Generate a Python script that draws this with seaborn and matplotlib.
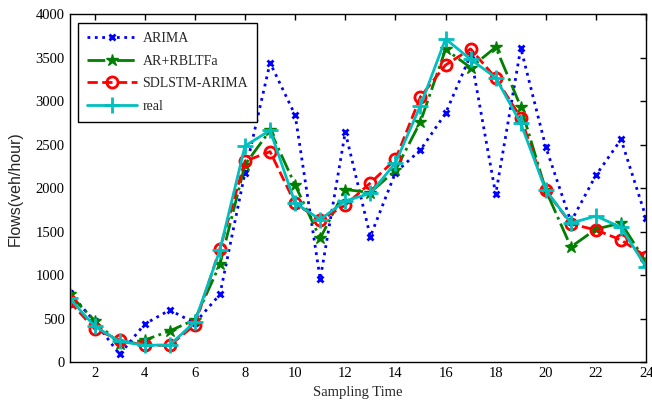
import numpy as np
import pandas as pd
import matplotlib
matplotlib.use("Agg")
import matplotlib.pyplot as plt
import seaborn as sns

# sampling points
t = list(range(1, 25))

arima = [800, 470, 90, 440, 600, 450, 780, 2180, 3440, 2840, 955, 2645,
         1445, 2180, 2440, 2860, 3530, 1930, 3610, 2470, 1615, 2150, 2560, 1660]
ar_rbltfa = [780, 480, 210, 255, 360, 490, 1125, 2270, 2665, 2035, 1425, 1985,
             1950, 2205, 2765, 3595, 3385, 3620, 2935, 1975, 1325, 1530, 1600, 1150]
sdlstm_arima = [700, 385, 255, 195, 195, 430, 1305, 2310, 2420, 1825, 1635, 1805,
                2060, 2330, 3050, 3415, 3600, 3265, 2810, 1975, 1590, 1520, 1405, 1215]
real = [735, 415, 240, 195, 200, 465, 1290, 2485, 2665, 1830, 1640, 1855,
        1940, 2290, 2950, 3715, 3480, 3270, 2745, 1975, 1600, 1680, 1550, 1095]

names = ['ARIMA', 'AR+RBLTFa', 'SDLSTM-ARIMA', 'real']
colors = ['#0000ff', '#007f00', '#ff0000', '#00bfbf']

sns.set_style('white')
plt.rcParams['font.family'] = ['Liberation Serif', 'DejaVu Serif']

fig = plt.figure(figsize=(6.52, 4.03), dpi=100)
ax = fig.add_axes([0.1066, 0.101, 0.8844, 0.864])

df = pd.DataFrame({'t': t * 4,
                   'flow': arima + ar_rbltfa + sdlstm_arima + real,
                   'model': sum([[n] * len(t) for n in names], [])})

styles = {
    'ARIMA': dict(ls=':', marker='x', ms=5, mew=2, lw=2),
    'AR+RBLTFa': dict(ls='-.', marker='*', ms=9, mew=1, lw=2),
    'SDLSTM-ARIMA': dict(ls='--', marker='o', ms=8, mew=2, lw=2, mfc='none'),
    'real': dict(ls='-', marker='+', ms=11, mew=2, lw=2),
}
for name, col in zip(names, colors):
    sub = df[df['model'] == name]
    st = styles[name]
    sns.lineplot(data=sub, x='t', y='flow', ax=ax, color=col, label=name,
                 linestyle=st['ls'], linewidth=st['lw'], marker=st['marker'],
                 markersize=st['ms'], markeredgewidth=st['mew'],
                 markeredgecolor=col,
                 markerfacecolor=st.get('mfc', col))

ax.set_xlim(1, 24)
ax.set_ylim(0, 4000)
ax.set_xticks(range(2, 25, 2))
ax.set_yticks(range(0, 4001, 500))
ax.tick_params(direction='in', top=True, right=True, length=4, width=1,
               labelsize=10.5, colors='black')
for s in ax.spines.values():
    s.set_color('black')
    s.set_linewidth(1)

ax.set_xlabel('Sampling Time', fontsize=10.5)
ax.set_ylabel('Flows(veh/hour)', fontsize=11.5, family=['Liberation Sans'],
              labelpad=9)

leg = ax.legend(loc='upper left', bbox_to_anchor=(0.0147, 0.974),
                borderaxespad=0, fontsize=10, frameon=True, fancybox=False,
                edgecolor='black', framealpha=1, handlelength=3.6,
                handletextpad=0.4, borderpad=0.65, labelspacing=0.68)
leg.get_frame().set_linewidth(1)

fig.savefig('out.png', dpi=100)
